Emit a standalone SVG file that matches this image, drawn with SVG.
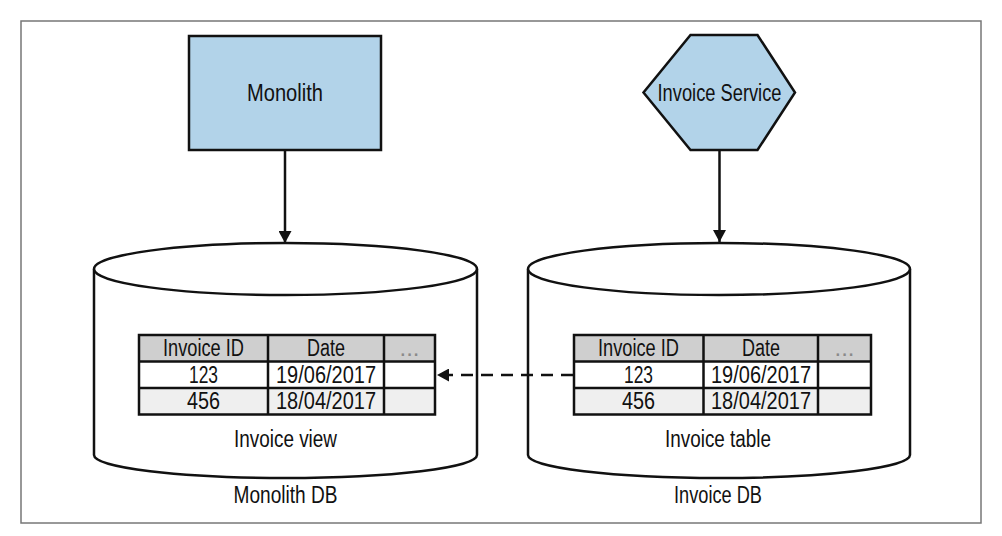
<svg xmlns="http://www.w3.org/2000/svg" width="1002" height="536" viewBox="0 0 1002 536">
<style>
text{font-family:"Liberation Sans",Arial,sans-serif;fill:#111;text-anchor:middle;font-size:23px}
.shape{fill:#b2d3e9;stroke:#111;stroke-width:2.5}
.cyl{fill:#fff;stroke:#111;stroke-width:2.5}
.grid{stroke:#111;stroke-width:2.5;fill:none}
.hdr{fill:#cfcfcf}
.r1{fill:#fff}
.r2{fill:#efefef}
.dots{fill:#8a8a8a}
.conn{stroke:#111;stroke-width:2.5;fill:none}
</style>
<defs>
<marker id="ah" markerUnits="userSpaceOnUse" markerWidth="13" markerHeight="13" refX="12" refY="6.5" orient="auto">
<path d="M0,0 L12,6.5 L0,13 Z" fill="#111"/>
</marker>
</defs>
<rect x="0" y="0" width="1002" height="536" fill="#fff"/>
<rect x="21" y="21" width="960" height="502" fill="none" stroke="#777" stroke-width="1.5"/>

<g id="monolith">
<rect class="shape" x="189" y="36" width="192" height="114"/>
<text x="285" y="101" textLength="76" lengthAdjust="spacingAndGlyphs">Monolith</text>
</g>

<g id="invoice-service">
<polygon class="shape" points="690.5,35 757.5,35 795,92.5 757.5,150 690.5,150 643.5,92.5"/>
<text x="719.5" y="101" textLength="124" lengthAdjust="spacingAndGlyphs">Invoice Service</text>
</g>

<g id="monolith-db">
<path class="cyl" d="M94,269 L94,455 A191.5,23 0 0 0 477,455 L477,269"/>
<ellipse class="cyl" cx="285.5" cy="269" rx="191.5" ry="26"/>
<g id="invoice-view">
<rect class="hdr" x="139" y="335" width="296" height="26.5"/>
<rect class="r1" x="139" y="361.5" width="296" height="26.5"/>
<rect class="r2" x="139" y="388" width="296" height="26.5"/>
<path class="grid" d="M139,335 H435 V414.5 H139 Z M139,361.5 H435 M139,388 H435 M268,335 V414.5 M384,335 V414.5"/>
<text x="203.5" y="356" textLength="81" lengthAdjust="spacingAndGlyphs">Invoice ID</text>
<text x="326" y="356" textLength="38" lengthAdjust="spacingAndGlyphs">Date</text>
<text class="dots" x="409.5" y="356" textLength="20" lengthAdjust="spacingAndGlyphs">...</text>
<text x="203.5" y="382.5" textLength="29" lengthAdjust="spacingAndGlyphs">123</text>
<text x="326" y="382.5" textLength="100" lengthAdjust="spacingAndGlyphs">19/06/2017</text>
<text x="203.5" y="409" textLength="33" lengthAdjust="spacingAndGlyphs">456</text>
<text x="326" y="409" textLength="100" lengthAdjust="spacingAndGlyphs">18/04/2017</text>
</g>
<text x="285.5" y="447" textLength="103" lengthAdjust="spacingAndGlyphs">Invoice view</text>
<text x="285.5" y="503" textLength="104" lengthAdjust="spacingAndGlyphs">Monolith DB</text>
</g>

<g id="invoice-db">
<path class="cyl" d="M528,269 L528,455 A191,23 0 0 0 910,455 L910,269"/>
<ellipse class="cyl" cx="719" cy="269" rx="191" ry="26"/>
<g id="invoice-table">
<rect class="hdr" x="574" y="335" width="297" height="26.5"/>
<rect class="r1" x="574" y="361.5" width="297" height="26.5"/>
<rect class="r2" x="574" y="388" width="297" height="26.5"/>
<path class="grid" d="M574,335 H871 V414.5 H574 Z M574,361.5 H871 M574,388 H871 M703.5,335 V414.5 M818,335 V414.5"/>
<text x="638.5" y="356" textLength="81" lengthAdjust="spacingAndGlyphs">Invoice ID</text>
<text x="761" y="356" textLength="38" lengthAdjust="spacingAndGlyphs">Date</text>
<text class="dots" x="844.5" y="356" textLength="20" lengthAdjust="spacingAndGlyphs">...</text>
<text x="638.5" y="382.5" textLength="29" lengthAdjust="spacingAndGlyphs">123</text>
<text x="761" y="382.5" textLength="100" lengthAdjust="spacingAndGlyphs">19/06/2017</text>
<text x="638.5" y="409" textLength="33" lengthAdjust="spacingAndGlyphs">456</text>
<text x="761" y="409" textLength="100" lengthAdjust="spacingAndGlyphs">18/04/2017</text>
</g>
<text x="718" y="447" textLength="106" lengthAdjust="spacingAndGlyphs">Invoice table</text>
<text x="718" y="503" textLength="88" lengthAdjust="spacingAndGlyphs">Invoice DB</text>
</g>

<g id="connectors">
<line class="conn" x1="285" y1="150" x2="285" y2="243" marker-end="url(#ah)"/>
<line class="conn" x1="719.5" y1="150" x2="719.5" y2="242" marker-end="url(#ah)"/>
<line class="conn" x1="573" y1="375" x2="437" y2="375" stroke-dasharray="12 8" marker-end="url(#ah)"/>
</g>
</svg>
